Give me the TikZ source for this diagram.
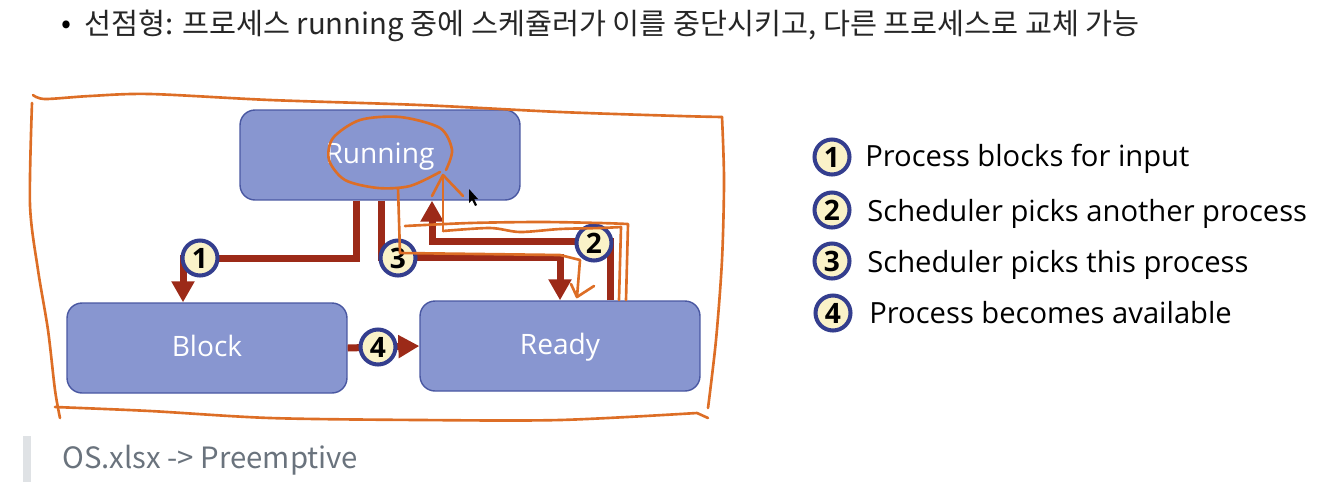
\documentclass[tikz,border=0pt]{standalone}
\usepackage{fontspec}
\setmainfont{Open Sans}
\newfontfamily\krfont{Noto Sans CJK KR}
\usetikzlibrary{arrows.meta,calc}
\definecolor{boxfill}{HTML}{8896D0}
\definecolor{boxline}{HTML}{4A58A2}
\definecolor{flowred}{HTML}{9C2A18}
\definecolor{numfill}{HTML}{FAF2C8}
\definecolor{numline}{HTML}{343E8E}
\definecolor{pen}{HTML}{DD6E26}
\definecolor{quote}{HTML}{DFE2E5}
\definecolor{quotetext}{HTML}{6A737D}
\begin{document}
\begin{tikzpicture}[x=0.02cm,y=-0.02cm,
		state/.style={draw=boxline,fill=boxfill,line width=0.8pt,rounded corners=0.3cm,minimum width=5.6cm,minimum height=1.8cm,text height=1.05em,text depth=0.05em,text=white,font=\fontsize{16}{19}\selectfont},
		num/.style={circle,draw=numline,fill=numfill,line width=2.3pt,minimum size=0.7cm,inner sep=0pt,font=\fontsize{16}{18}\selectfont\bfseries},
		flow/.style={draw=flowred,line width=0.14cm,-{Triangle[length=0.42cm,width=0.44cm]}},
		stroke/.style={draw=pen,line width=1.5pt,line cap=round,line join=round},
		legend/.style={anchor=base west,inner sep=0pt,font=\fontsize{16.6}{19}\selectfont}]
	\useasboundingbox (0,0) rectangle (1317,501);
	\node[inner sep=0pt,font=\krfont\fontsize{16.7}{19}\selectfont] (bul) at (66,27) {•};
	\node[anchor=base west,inner sep=0pt,text=black!85,font=\krfont\fontsize{16.7}{19}\selectfont] (title) at (84,34) {선점형: 프로세스 running 중에 스케쥴러가 이를 중단시키고, 다른 프로세스로 교체 가능};
	\node[state] (run) at (380,155) {Running};
	\node[state] (blk) at (207,348) {Block};
	\node[state] (rdy) at (560,346) {Ready};
	\coordinate (c1) at (183,258);
	\coordinate (c3) at (560,257);
	\coordinate (c2) at (432,241);
	\draw[flow] ($(run.south)+(-24,0)$) |- (c1) -- (c1 |- blk.north);
	\draw[flow] ($(run.south)+(1,0)$) |- (c3) -- (c3 |- rdy.north);
	\draw[flow] ($(rdy.north)+(50,0)$) |- (c2) -- (c2 |- run.south);
	\draw[flow] (blk.east) -- (rdy.west);
	\node[num] (n1) at (200,258) {1};
	\node[num] (n3) at (398,258) {3};
	\node[num] (n2) at (594,243) {2};
	\node[num] (n4) at (378,347) {4};
	\node[num] (l1) at (832,157) {1};
	\node[num] (l2) at (832,210) {2};
	\node[num] (l3) at (832,261) {3};
	\node[num] (l4) at (833,313) {4};
	\node[legend] (t1) at (865,166) {Process blocks for input};
	\node[legend] (t2) at (867,221) {Scheduler picks another process};
	\node[legend] (t3) at (867,272) {Scheduler picks this process};
	\node[legend] (t4) at (869,323) {Process becomes available};
	\fill[quote] (23,436) rectangle (31,482);
	\node[anchor=base west,inner sep=0pt,text=quotetext,font=\krfont\fontsize{16.7}{19}\selectfont] (src) at (62,468) {OS.xlsx -> Preemptive};
	\draw[stroke] plot[smooth] coordinates {(33,95) (45,99) (90,96) (150,94) (270,100) (420,105) (560,112) (680,116) (722,117)};
	\draw[stroke] plot[smooth] coordinates {(722,117) (724,180) (722,260) (716,340) (708,408)};
	\draw[stroke] plot[smooth] coordinates {(55,407) (150,411) (270,418) (420,420) (560,420) (697,413)} -- (708,418);
	\draw[stroke] plot[smooth] coordinates {(32,103) (30,205) (38,270) (48,330) (55,390) (60,418)};
	\draw[stroke] plot[smooth] coordinates {(446,170) (452,150) (440,128) (400,117) (360,120) (333,138) (329,160) (345,180) (378,188) (410,186) (440,172)};
	\draw[stroke] (398,188) -- (400,253) -- (560,255) -- (580,260) -- (577,297);
	\draw[stroke] (571,284) -- (577,297) -- (594,286);
	\draw[stroke] (443,230) -- (443,176);
	\draw[stroke] (432,196) -- (443,175) -- (463,196);
	\draw[stroke] plot[smooth] coordinates {(405,226) (470,223) (540,222) (600,223) (628,224)} -- (626,300);
	\draw[stroke] plot[smooth] coordinates {(443,231) (490,228) (520,232) (560,229) (600,228) (621,227)} -- (619,300);
	\fill[black] (469,189) -- (469,203) -- (472,200) -- (475,206) -- (477,205) -- (474,199) -- (478,199) -- cycle;
\end{tikzpicture}
\end{document}
